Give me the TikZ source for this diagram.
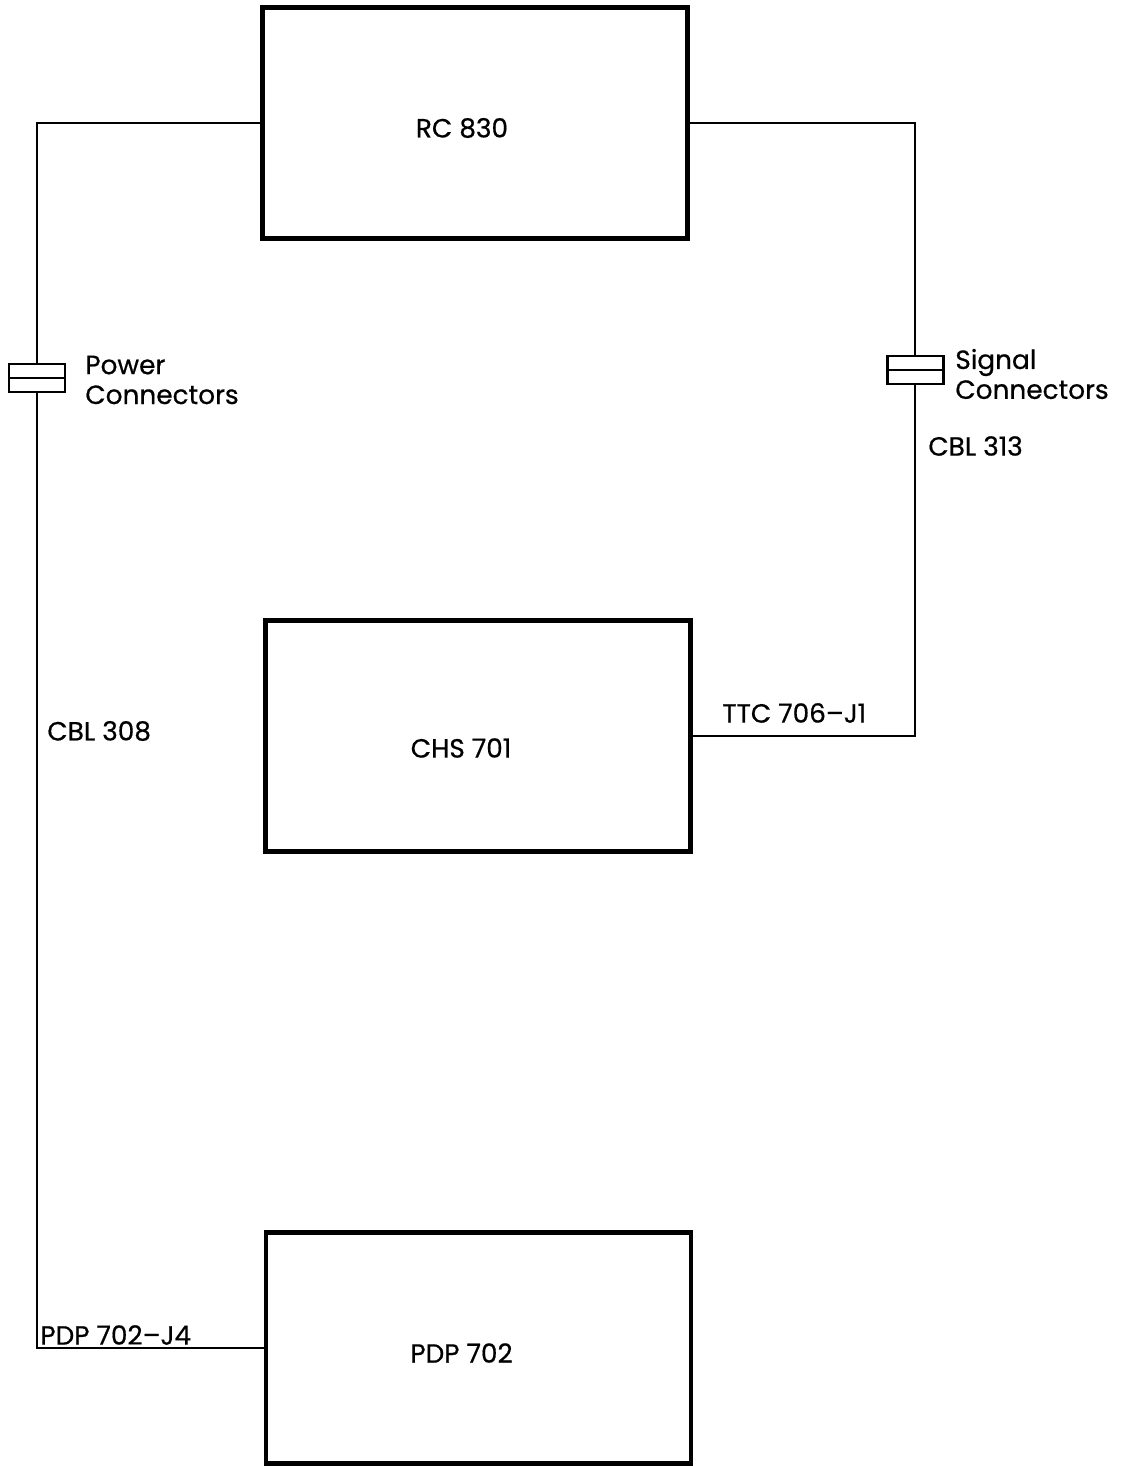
\documentclass[tikz,border=0pt]{standalone}
\usepackage{fontspec}
\setmainfont{Poppins}[UprightFeatures={FakeBold=0.6}]
\usetikzlibrary{positioning}

\begin{document}
\begin{tikzpicture}[
        x=0.02cm, y=-0.02cm,
        unit/.style={rectangle, draw=black, line width=2.5pt, minimum width=8.5cm, minimum height=4.62cm},
        plug/.style={rectangle, draw=black, line width=1.7pt, minimum width=1.12cm, minimum height=0.56cm, inner sep=0pt,
            path picture={\draw[line width=1.7pt] (path picture bounding box.west) -- (path picture bounding box.east);}},
        wire/.style={line width=1.4pt, draw=black},
        lbl/.style={font=\fontsize{15}{17}\selectfont, inner sep=0pt, align=left}
    ]
        \useasboundingbox (0,0) rectangle (1127,1466);

        \node[unit] (rc) at (475,123) {};
        \node[unit] (chs) at (478,736) {};
        \node[unit] (pdp) at (478.5,1348) {};

        \node[lbl] (rctxt) at ([shift={(-13,5)}]rc.center) {RC 830};
        \node[lbl] (chstxt) at ([shift={(-17,12)}]chs.center) {CHS 701};
        \node[lbl] (pdptxt) at ([shift={(-17,5)}]pdp.center) {PDP 702};

        \node[plug] (pwr) at (37,378) {};
        \node[plug] (sig) at (915,370) {};

        \draw[wire] (rc.west) -| (pwr.center) |- (pdp.west);
        \draw[wire] (rc.east) -| (sig.center) |- (chs.east);
        % redraw the plugs on top of the wires
        \node[plug, fill=white] at (pwr) {};
        \node[plug, fill=white] at (sig) {};

        \node[lbl, anchor=west] (pwrtxt) at (85,380) {Power\\Connectors};
        \node[lbl, anchor=west] (sigtxt) at (955,374) {Signal\\Connectors};
        \node[lbl, anchor=west] (cbl313) at (928,446) {CBL 313};
        \node[lbl, anchor=west] (cbl308) at (47,731) {CBL 308};
        \node[lbl, anchor=west] (ttc) at (722,713) {TTC 706--J1};
        \node[lbl, anchor=west] (pdpj) at (40,1335) {PDP 702--J4};
    \end{tikzpicture}
\end{document}
